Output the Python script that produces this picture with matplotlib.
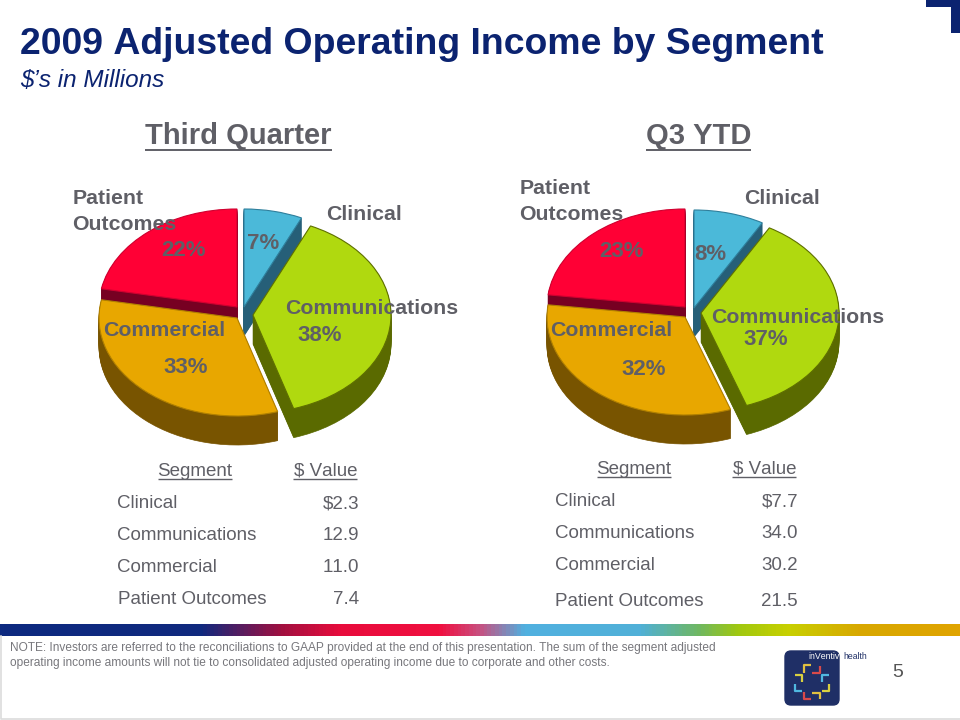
import matplotlib
matplotlib.use('Agg')
import numpy as np
import matplotlib.pyplot as plt
from matplotlib.colors import LinearSegmentedColormap
from matplotlib.patches import FancyBboxPatch, Rectangle

plt.rcParams['text.kerning_factor'] = 6

W, H = 960, 720

segments = ['Clinical', 'Communications', 'Commercial', 'Patient Outcomes']
quarter_values = [2.3, 12.9, 11.0, 7.4]
ytd_values = [7.7, 34.0, 30.2, 21.5]
quarter_table = ['$2.3', '12.9', '11.0', '7.4']
ytd_table = ['$7.7', '34.0', '30.2', '21.5']
quarter_pct = ['7%', '38%', '33%', '22%']
ytd_pct = ['8%', '37%', '32%', '23%']

top_colors = ['#4bb9d9', '#b0d90f', '#e8a700', '#ff0035']
wall_colors = ['#265f78', '#5a6a00', '#785400', '#770022']
edge_colors = ['#2f7f9c', '#5f7000', '#b08000', '#d00030']
# slices get painted back to front
paint_order = [1, 3, 2, 0]

navy = '#0b2370'
grey = '#5f5f66'
font = 'Liberation Sans'


def px_box(x0, y0, x1, y1):
	return [x0 / W, 1 - y1 / H, (x1 - x0) / W, (y1 - y0) / H]


def draw_pie(fig, values, center, offsets, rx=138, ry=98, depth=29):
	cx, cy = center
	ax = fig.add_axes(px_box(cx - 1.25 * rx, cy - 1.25 * ry, cx + 1.25 * rx, cy + 1.25 * ry))
	for d in range(depth, -1, -1):
		colors = top_colors if d == 0 else wall_colors
		wedges, _ = ax.pie(values, startangle=90, counterclock=False, colors=colors)
		for i, w in enumerate(wedges):
			w.set_center((offsets[i][0] / rx, -(offsets[i][1] + d) / ry))
			w.set_zorder(paint_order[i] * 100 - d + 5)
			if d == 0:
				w.set_edgecolor(edge_colors[i])
				w.set_linewidth(0.8)
			else:
				w.set_edgecolor(wall_colors[i])
				w.set_linewidth(0.5)
	ax.set_aspect('auto')
	ax.set_xlim(-1.25, 1.25)
	ax.set_ylim(-1.25, 1.25)
	ax.axis('off')
	ax.patch.set_alpha(0)
	return ax


fig = plt.figure(figsize=(9.6, 7.2), dpi=100, facecolor='white')

# pies
draw_pie(fig, quarter_values, (237, 307), [(7, 0), (16, 8), (0, 11), (0, 0)])
draw_pie(fig, ytd_values, (685, 307), [(9, 1), (16, 6), (0, 10), (0, 0)])

# everything else on a full slide overlay in pixels
ov = fig.add_axes([0, 0, 1, 1], zorder=10)
ov.set_xlim(0, W)
ov.set_ylim(H, 0)
ov.axis('off')
ov.patch.set_alpha(0)


def txt(x, y, s, size, color=grey, weight='normal', style='normal', ha='left'):
	return ov.text(x, y + 1.5, s, fontsize=size, color=color, weight=weight, style=style, ha=ha,
		va='center', family=font)


def uline(x0, x1, y, color=grey, lw=1.2):
	ov.plot([x0, x1], [y, y], color=color, lw=lw, solid_capstyle='butt')


# title block
txt(20, 43, '2009 Adjusted Operating Income by Segment', 26.9, navy, 'bold')
txt(20, 79, '$\u2019s in Millions', 17.5, navy, style='italic')
ov.add_patch(Rectangle((926, 0), 34, 7, color=navy, lw=0))
ov.add_patch(Rectangle((951, 0), 9, 33, color=navy, lw=0))

# pie headings
txt(238.5, 135, 'Third Quarter', 21, grey, 'bold', ha='center')
uline(145, 332, 149.5, lw=1.4)
txt(698.5, 135, 'Q3 YTD', 21, grey, 'bold', ha='center')
uline(646, 751, 149.5, lw=1.4)

# labels on left pie
lab = 15.3
pct = 16
txt(73, 197, 'Patient', lab, grey, 'bold')
txt(72, 223, 'Outcomes', lab, grey, 'bold')
txt(326, 213, segments[0], lab, grey, 'bold')
txt(285, 307, segments[1], lab, grey, 'bold')
txt(103, 329, segments[2], lab, grey, 'bold')
txt(247, 242, quarter_pct[0], pct, grey, 'bold')
txt(297, 334, quarter_pct[1], pct, grey, 'bold')
txt(163, 366, quarter_pct[2], pct, grey, 'bold')
txt(161, 249, quarter_pct[3], pct, grey, 'bold')

# labels on right pie
txt(520, 187, 'Patient', lab, grey, 'bold')
txt(519, 213, 'Outcomes', lab, grey, 'bold')
txt(744, 197, segments[0], lab, grey, 'bold')
txt(711, 316, segments[1], lab, grey, 'bold')
txt(550, 329, segments[2], lab, grey, 'bold')
txt(694, 253, ytd_pct[0], pct, grey, 'bold')
txt(743, 338, ytd_pct[1], pct, grey, 'bold')
txt(621, 368, ytd_pct[2], pct, grey, 'bold')
txt(599, 250, ytd_pct[3], pct, grey, 'bold')

# tables
tab = 13.5
txt(195, 469.5, 'Segment', tab, ha='center')
uline(158, 232, 479, lw=1)
txt(357, 469.5, '$ Value', tab, ha='right')
uline(293, 357, 479, lw=1)
left_rows = [502, 534, 566, 598]
left_x = [117, 117, 117, 118]
for i in range(4):
	txt(left_x[i], left_rows[i], segments[i], tab)
	txt(359, left_rows[i], quarter_table[i], tab, ha='right')

txt(634, 467.5, 'Segment', tab, ha='center')
uline(597, 671, 477, lw=1)
txt(796, 467.5, '$ Value', tab, ha='right')
uline(732, 796, 477, lw=1)
right_rows = [500, 532, 564, 600]
for i in range(4):
	txt(555, right_rows[i], segments[i], tab)
	txt(798, right_rows[i], ytd_table[i], tab, ha='right')

# rainbow footer bar
bar_stops = [(0.0, '#0d2a80'), (0.208, '#10297e'), (0.292, '#a01040'), (0.354, '#e80c3c'),
	(0.458, '#f01040'), (0.5, '#c85080'), (0.547, '#50b0e0'), (0.667, '#50b0d8'),
	(0.73, '#70b860'), (0.77, '#a0c810'), (0.823, '#c8d000'), (0.896, '#d8a800'), (1.0, '#e0a400')]
bar_cmap = LinearSegmentedColormap.from_list('footer', bar_stops)
ov.imshow(np.linspace(0, 1, 960).reshape(1, -1), cmap=bar_cmap, extent=(0, W, 636, 624),
	aspect='auto', zorder=1)
ov.set_xlim(0, W)
ov.set_ylim(H, 0)

# footer box
ov.plot([1, 1, W], [636, 718.5, 718.5], color='#dcdcdc', lw=1.2)
note = ('NOTE: Investors are referred to the reconciliations to GAAP provided at the end of this presentation. '
	'The sum of the segment adjusted\noperating income amounts will not tie to consolidated adjusted '
	'operating income due to corporate and other costs.')
ov.text(10, 655.5, note, fontsize=8.58, color='#77777c', family=font, va='center', linespacing=1.25)
txt(897.5, 671, '5', 14, '#555555', ha='center')

# logo
ov.add_patch(FancyBboxPatch((785, 651), 54, 54, boxstyle='round,pad=0,rounding_size=6',
	fc='#1f2f66', ec='#1f2f66', lw=1))
txt(808, 655, 'inVentiv', 6.3, 'white')
txt(843, 655, 'health', 6.2, '#1f2f66')
bracket_sets = [('#e0c040', [(811, 665), (804, 665), (804, 673)]),
	('#d84a4a', [(820, 666), (820, 673), (812, 673)]),
	('#d8d040', [(795, 675), (802, 675), (802, 682)]),
	('#50b8e0', [(829, 675), (822, 675), (822, 682)]),
	('#50b8e0', [(795, 684), (795, 691), (802, 691)]),
	('#d8d040', [(829, 684), (829, 691), (822, 691)]),
	('#d84a4a', [(804, 692), (804, 699), (811, 699)]),
	('#e0c040', [(812, 693), (820, 693), (820, 699)])]
for c, pts in bracket_sets:
	ov.plot([p[0] for p in pts], [p[1] for p in pts], color=c, lw=1.6, solid_capstyle='butt')

fig.savefig('out.png', dpi=100, facecolor='white')
plt.close(fig)
